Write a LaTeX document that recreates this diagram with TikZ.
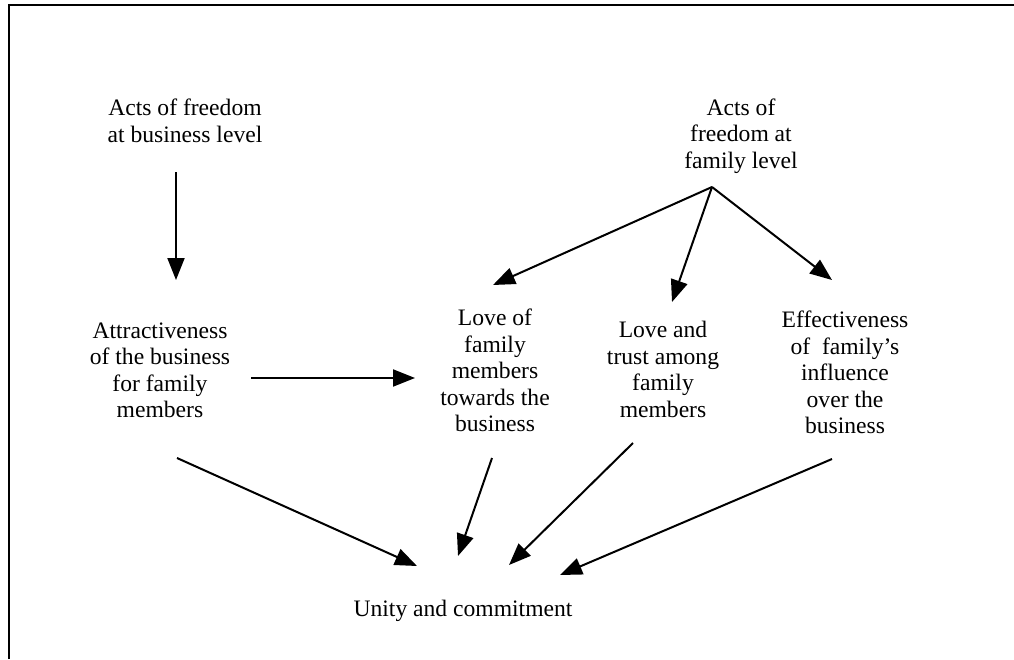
\documentclass[tikz,border=0pt]{standalone}
\usepackage{fontspec}
\setmainfont{Liberation Serif}
\usetikzlibrary{arrows.meta}
\begin{document}
\begin{tikzpicture}[x=1pt,y=-1pt,
  txt/.style={font=\fontsize{23.6}{26.5}\selectfont, align=center, inner sep=0pt},
  link/.style={line width=2pt, -{Triangle[length=22pt,width=17pt]}},
  frame/.style={line width=2.4pt}]
\useasboundingbox (0,0) rectangle (1014,659);
% open frame: top and left edges only
\draw[frame] (9,659) -- (9,5) -- (1014,5);

% text blocks
\node[txt] (actsbiz)   at (185,120.6) {Acts of freedom\\at business level};
\node[txt] (actsfam)   at (741,136)   {Acts of\\freedom at\\family level};
\node[txt] (attr)      at (160,370.2) {Attractiveness\\of the business\\for family\\members};
\node[txt] (love)      at (495,370.5) {Love of\\family\\members\\towards the\\business};
\node[txt] (trust)     at (663,369.2) {Love and\\trust among\\family\\members};
\node[txt] (effect)    at (845,372.6) {Effectiveness\\of\ \ family's\\influence\\over the\\business};
\node[txt, anchor=base] (unity) at (463,616) {Unity and commitment};

% connector ends
\coordinate (actsbiz-out) at (176,172);
\coordinate (attr-in)     at (176,280);
\coordinate (attr-right)  at (251,378);
\coordinate (love-left)   at (415,378);
\coordinate (fan)         at (712,187);
\coordinate (love-in)     at (493,285);
\coordinate (trust-in)    at (672,302);
\coordinate (effect-in)   at (832,280);
\coordinate (attr-out)    at (177,458);
\coordinate (love-out)    at (492,458);
\coordinate (trust-out)   at (633,443);
\coordinate (effect-out)  at (832,459);
\coordinate (unity-a)     at (417,566);
\coordinate (unity-b)     at (458,556);
\coordinate (unity-c)     at (509,565);
\coordinate (unity-d)     at (560,575);

% connectors
\draw[link] (actsbiz-out) -- (attr-in);
\draw[link] (attr-right) -- (love-left);
\draw[link] (fan) -- (love-in);
\draw[link] (fan) -- (trust-in);
\draw[link] (fan) -- (effect-in);
\draw[link] (attr-out) -- (unity-a);
\draw[link] (love-out) -- (unity-b);
\draw[link] (trust-out) -- (unity-c);
\draw[link] (effect-out) -- (unity-d);
\end{tikzpicture}
\end{document}
